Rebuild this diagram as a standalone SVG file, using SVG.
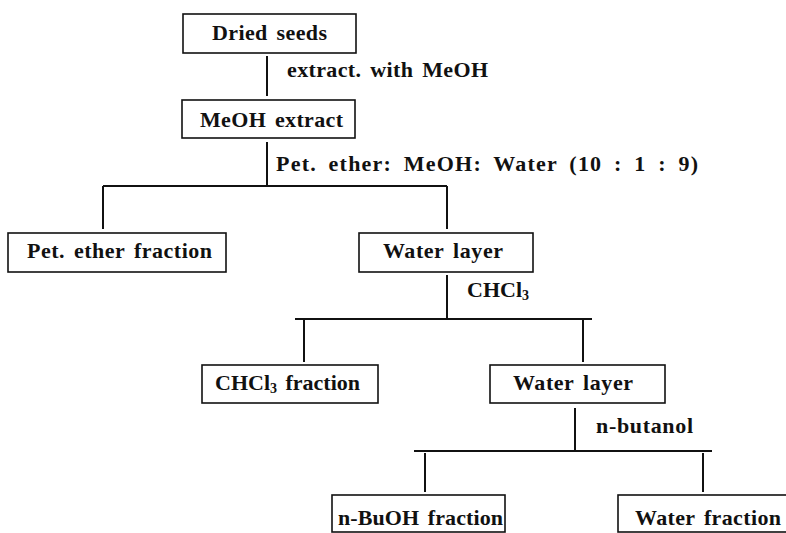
<svg xmlns="http://www.w3.org/2000/svg" width="786" height="533" viewBox="0 0 786 533">
<style>
  .box { fill: none; stroke: #111; stroke-width: 1.6; }
  .ln { fill: none; stroke: #111; stroke-width: 2; }
  text { font-family: "Liberation Serif", "Times New Roman", serif; font-weight: bold; font-size: 22px; fill: #111; word-spacing: 3px; }
  .sub { font-size: 14px; }
</style>
<rect width="786" height="533" fill="#fff"/>
<g id="connectors">
  <line class="ln" x1="267" y1="56" x2="267" y2="96"/>
  <line class="ln" x1="267" y1="142" x2="267" y2="186"/>
  <line class="ln" x1="103" y1="186" x2="447" y2="186"/>
  <line class="ln" x1="103" y1="186" x2="103" y2="229"/>
  <line class="ln" x1="447" y1="186" x2="447" y2="229"/>
  <line class="ln" x1="447" y1="275" x2="447" y2="319"/>
  <line class="ln" x1="295" y1="319" x2="592" y2="319"/>
  <line class="ln" x1="304" y1="320" x2="304" y2="362"/>
  <line class="ln" x1="583" y1="320" x2="583" y2="362"/>
  <line class="ln" x1="575" y1="408" x2="575" y2="451"/>
  <line class="ln" x1="414" y1="451" x2="712" y2="451"/>
  <line class="ln" x1="425" y1="453" x2="425" y2="492"/>
  <line class="ln" x1="703" y1="453" x2="703" y2="492"/>
  <text x="287" y="77" textLength="201" lengthAdjust="spacing">extract. with MeOH</text>
  <text x="276" y="171" textLength="422" lengthAdjust="spacing" style="word-spacing:5px">Pet. ether: MeOH: Water (10 : 1 : 9)</text>
  <text x="467" y="297">CHCl<tspan class="sub" dy="3">3</tspan></text>
  <text x="596" y="433" textLength="97" lengthAdjust="spacing">n-butanol</text>
</g>
<g id="dried-seeds">
  <rect class="box" x="183" y="14" width="173" height="39"/>
  <text x="212" y="40" textLength="115" lengthAdjust="spacing">Dried seeds</text>
</g>
<g id="meoh-extract">
  <rect class="box" x="182" y="100" width="173" height="38"/>
  <text x="200" y="127" textLength="143" lengthAdjust="spacing">MeOH extract</text>
</g>
<g id="pet-ether-fraction">
  <rect class="box" x="8" y="233" width="218" height="39"/>
  <text x="27" y="258" textLength="185" lengthAdjust="spacing">Pet. ether fraction</text>
</g>
<g id="water-layer-1">
  <rect class="box" x="359" y="233" width="174" height="39"/>
  <text x="383" y="258" textLength="120" lengthAdjust="spacing">Water layer</text>
</g>
<g id="chcl3-fraction">
  <rect class="box" x="202" y="365" width="176" height="38"/>
  <text x="215" y="390">CHCl<tspan class="sub" dy="3">3</tspan><tspan dy="-3"> fraction</tspan></text>
</g>
<g id="water-layer-2">
  <rect class="box" x="490" y="365" width="175" height="38"/>
  <text x="513" y="390" textLength="120" lengthAdjust="spacing">Water layer</text>
</g>
<g id="n-buoh-fraction">
  <rect class="box" x="332" y="495" width="173" height="37"/>
  <text x="338" y="525" textLength="165" lengthAdjust="spacing">n-BuOH fraction</text>
</g>
<g id="water-fraction">
  <rect class="box" x="618" y="495" width="190" height="37"/>
  <text x="635" y="525" textLength="146" lengthAdjust="spacing">Water fraction</text>
</g>
</svg>
